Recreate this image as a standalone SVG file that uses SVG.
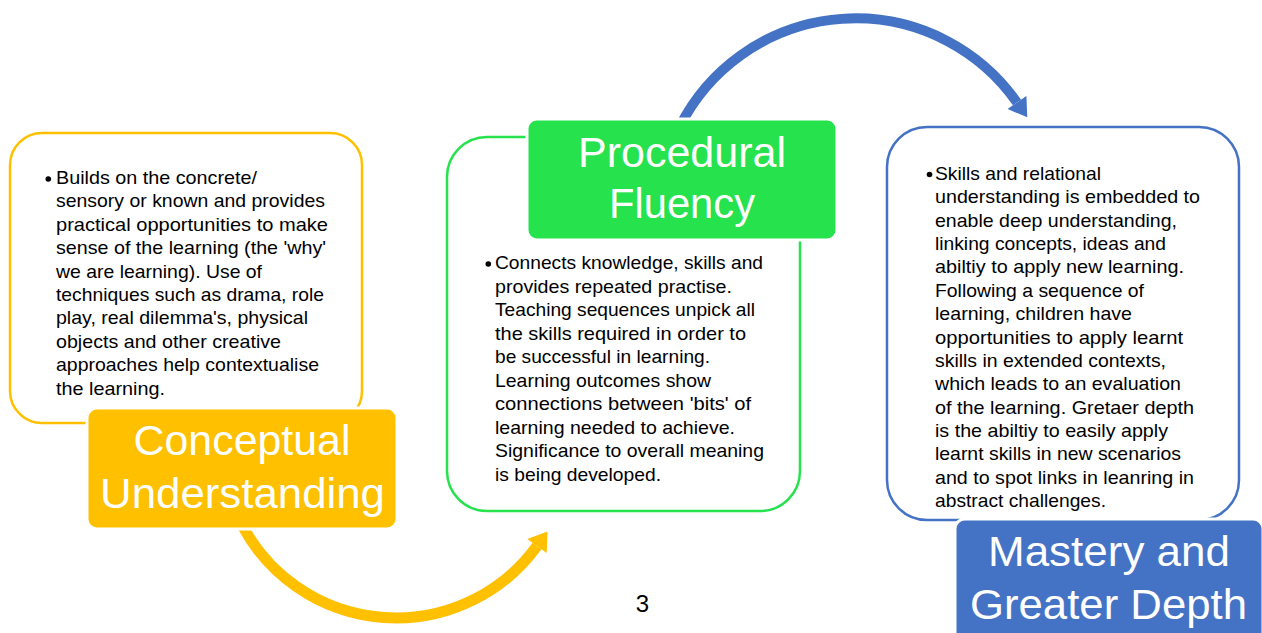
<svg xmlns="http://www.w3.org/2000/svg" width="1262" height="633" viewBox="0 0 1262 633">
<style>
.body{font-family:"Liberation Sans",Arial,sans-serif;font-size:19px;fill:#000;}
.head{font-family:"Liberation Sans",Arial,sans-serif;font-size:43px;fill:#fff;text-anchor:middle;}
.lbl{stroke:#fff;stroke-width:3;}
.outline{fill:#fff;stroke-width:2.5;}
.page{font-family:"Liberation Sans",Arial,sans-serif;font-size:24px;fill:#000;text-anchor:middle;}
</style>
<rect width="1262" height="633" fill="#fff"/>
<g id="connectors">
<path d="M 242.4 525.7 A 174 174 0 0 0 537 546" fill="none" stroke="#FFC000" stroke-width="11"/>
<polygon points="547.5,531.4 546.7,553 527.3,539" fill="#FFC000"/>
<path d="M 680 126 A 197 197 0 0 1 1017 102.5" fill="none" stroke="#4472C4" stroke-width="10"/>
<polygon points="1027.3,117.2 1026.4,95.9 1007.6,109.1" fill="#4472C4"/>
</g>
<g id="conceptual">
<rect class="outline" x="10" y="133" width="352" height="290" rx="32" stroke="#FFC000"/>
<circle cx="48.3" cy="179" r="2.8" fill="#000"/>
<text class="body">
<tspan x="56" y="184" textLength="201" lengthAdjust="spacingAndGlyphs">Builds on the concrete/</tspan>
<tspan x="56" y="207.4" textLength="269" lengthAdjust="spacingAndGlyphs">sensory or known and provides</tspan>
<tspan x="56" y="230.8" textLength="272" lengthAdjust="spacingAndGlyphs">practical opportunities to make</tspan>
<tspan x="56" y="254.2" textLength="270" lengthAdjust="spacingAndGlyphs">sense of the learning (the 'why'</tspan>
<tspan x="56" y="277.6" textLength="206" lengthAdjust="spacingAndGlyphs">we are learning). Use of</tspan>
<tspan x="56" y="301" textLength="268" lengthAdjust="spacingAndGlyphs">techniques such as drama, role</tspan>
<tspan x="56" y="324.4" textLength="252" lengthAdjust="spacingAndGlyphs">play, real dilemma's, physical</tspan>
<tspan x="56" y="347.8" textLength="225" lengthAdjust="spacingAndGlyphs">objects and other creative</tspan>
<tspan x="56" y="371.2" textLength="263" lengthAdjust="spacingAndGlyphs">approaches help contextualise</tspan>
<tspan x="56" y="394.6" textLength="109" lengthAdjust="spacingAndGlyphs">the learning.</tspan>
</text>
<rect class="lbl" x="87" y="408" width="310" height="121" rx="10" fill="#FFC000"/>
<text class="head"><tspan x="242" y="455" textLength="217" lengthAdjust="spacingAndGlyphs">Conceptual</tspan><tspan x="242.5" y="508" textLength="285" lengthAdjust="spacingAndGlyphs">Understanding</tspan></text>
</g>
<g id="procedural">
<rect class="outline" x="447" y="137" width="353" height="374" rx="40" stroke="#25E24D"/>
<circle cx="488.3" cy="264" r="2.8" fill="#000"/>
<text class="body">
<tspan x="495" y="269" textLength="268" lengthAdjust="spacingAndGlyphs">Connects knowledge, skills and</tspan>
<tspan x="495" y="292.5" textLength="237" lengthAdjust="spacingAndGlyphs">provides repeated practise.</tspan>
<tspan x="495" y="316" textLength="260" lengthAdjust="spacingAndGlyphs">Teaching sequences unpick all</tspan>
<tspan x="495" y="339.5" textLength="251" lengthAdjust="spacingAndGlyphs">the skills required in order to</tspan>
<tspan x="495" y="363" textLength="215" lengthAdjust="spacingAndGlyphs">be successful in learning.</tspan>
<tspan x="495" y="386.5" textLength="216" lengthAdjust="spacingAndGlyphs">Learning outcomes show</tspan>
<tspan x="495" y="410" textLength="256" lengthAdjust="spacingAndGlyphs">connections between 'bits' of</tspan>
<tspan x="495" y="433.5" textLength="240" lengthAdjust="spacingAndGlyphs">learning needed to achieve.</tspan>
<tspan x="495" y="457" textLength="269" lengthAdjust="spacingAndGlyphs">Significance to overall meaning</tspan>
<tspan x="495" y="480.5" textLength="166" lengthAdjust="spacingAndGlyphs">is being developed.</tspan>
</text>
<rect class="lbl" x="527" y="119" width="310" height="121" rx="10" fill="#25E24D"/>
<text class="head"><tspan x="682" y="167" textLength="208" lengthAdjust="spacingAndGlyphs">Procedural</tspan><tspan x="682" y="218" textLength="146" lengthAdjust="spacingAndGlyphs">Fluency</tspan></text>
</g>
<g id="mastery">
<rect class="outline" x="887" y="127" width="352" height="393" rx="40" stroke="#4472C4"/>
<circle cx="929.5" cy="174.5" r="2.8" fill="#000"/>
<text class="body">
<tspan x="935" y="180" textLength="166" lengthAdjust="spacingAndGlyphs">Skills and relational</tspan>
<tspan x="935" y="203.4" textLength="265" lengthAdjust="spacingAndGlyphs">understanding is embedded to</tspan>
<tspan x="935" y="226.7" textLength="242" lengthAdjust="spacingAndGlyphs">enable deep understanding,</tspan>
<tspan x="935" y="250.1" textLength="231" lengthAdjust="spacingAndGlyphs">linking concepts, ideas and</tspan>
<tspan x="935" y="273.4" textLength="249" lengthAdjust="spacingAndGlyphs">abiltiy to apply new learning.</tspan>
<tspan x="935" y="296.8" textLength="209" lengthAdjust="spacingAndGlyphs">Following a sequence of</tspan>
<tspan x="935" y="320.2" textLength="197" lengthAdjust="spacingAndGlyphs">learning, children have</tspan>
<tspan x="935" y="343.5" textLength="248" lengthAdjust="spacingAndGlyphs">opportunities to apply learnt</tspan>
<tspan x="935" y="366.9" textLength="231" lengthAdjust="spacingAndGlyphs">skills in extended contexts,</tspan>
<tspan x="935" y="390.2" textLength="246" lengthAdjust="spacingAndGlyphs">which leads to an evaluation</tspan>
<tspan x="935" y="413.6" textLength="259" lengthAdjust="spacingAndGlyphs">of the learning. Gretaer depth</tspan>
<tspan x="935" y="437" textLength="233" lengthAdjust="spacingAndGlyphs">is the abiltiy to easily apply</tspan>
<tspan x="935" y="460.3" textLength="246" lengthAdjust="spacingAndGlyphs">learnt skills in new scenarios</tspan>
<tspan x="935" y="483.7" textLength="259" lengthAdjust="spacingAndGlyphs">and to spot links in leanring in</tspan>
<tspan x="935" y="507" textLength="171" lengthAdjust="spacingAndGlyphs">abstract challenges.</tspan>
</text>
<rect class="lbl" x="955" y="519" width="308" height="125" rx="10" fill="#4472C4"/>
<text class="head"><tspan x="1109" y="566" textLength="242" lengthAdjust="spacingAndGlyphs">Mastery and</tspan><tspan x="1108.5" y="619" textLength="277" lengthAdjust="spacingAndGlyphs">Greater Depth</tspan></text>
</g>
<g id="page-number">
<text class="page" x="642.5" y="611.5">3</text>
</g>
</svg>
